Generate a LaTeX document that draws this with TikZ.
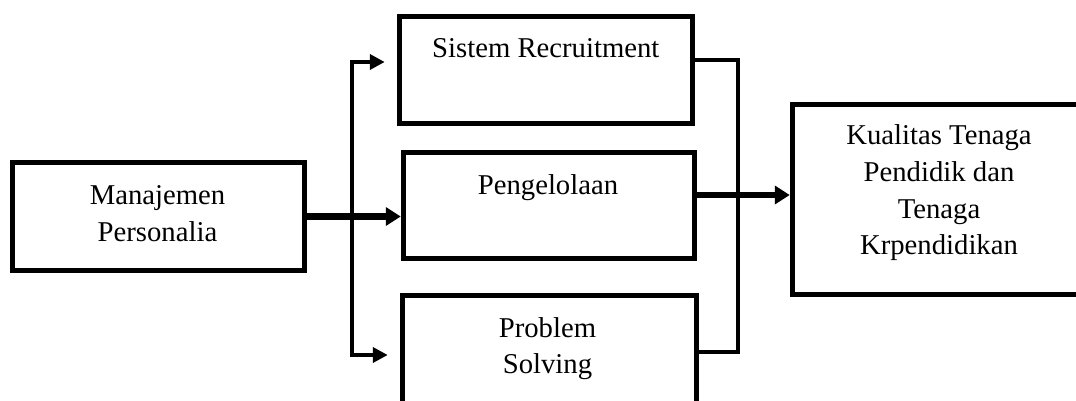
\documentclass[tikz,border=0pt]{standalone}
\usepackage{fontspec}
\setmainfont{Liberation Serif}
\usetikzlibrary{arrows.meta}
\begin{document}
\begin{tikzpicture}[x=1pt,y=-1pt,
  box/.style={draw=black,line width=5.5pt,inner sep=0pt,fill=none},
  txt/.style={align=center,inner sep=0pt,font=\fontsize{28.7}{36.7}\selectfont},
  thinline/.style={draw=black,line width=4pt},
  thinarrow/.style={thinline,{Triangle[length=15pt,width=15pt]}-{Triangle[length=15pt,width=15pt]}},
  bigarrow/.style={draw=black,line width=6.5pt,-{Triangle[length=15pt,width=18pt]}}]
\useasboundingbox (0,0) rectangle (1076,401);
% boxes
\node[box,minimum width=292pt,minimum height=108pt] (mp) at (158.5,216.5) {};
\node[box,minimum width=293pt,minimum height=107pt] (sr) at (546,70) {};
\node[box,minimum width=291pt,minimum height=106pt] (pg) at (549,205.5) {};
\node[box,minimum width=294pt,minimum height=110pt] (ps) at (549.5,350.5) {};
\node[box,minimum width=293pt,minimum height=190pt] (kt) at (939,199.5) {};
% texts
\node[txt] (mpt) at (157.5,213.5) {Manajemen\\Personalia};
\node[txt] (srt) at (545.8,48) {Sistem Recruitment};
\node[txt] (pgt) at (548,188) {Pengelolaan};
\node[txt] (pst) at (547.5,348.5) {Problem\\Solving};
\node[txt] (ktt) at (939,193) {Kualitas Tenaga\\Pendidik dan\\Tenaga\\Krpendidikan};
% connector coordinates
\coordinate (lt) at (352,62);
\coordinate (lb) at (352,355);
\coordinate (rt) at (738,60);
\coordinate (rb) at (738,352);
% connectors
\draw[thinarrow,shorten <=12pt,shorten >=12pt] (lb -| ps.west) -- (lb) -- (lt) -- (lt -| sr.west);
\draw[thinline] (rt -| sr.east) -- (rt) -- (rb) -- (rb -| ps.east);
\draw[bigarrow] (mp.east) -- (mp.east -| pg.west);
\draw[bigarrow] ([yshift=10.5pt]pg.east) -- ([yshift=10.5pt]pg.east -| kt.west);
\end{tikzpicture}
\end{document}
